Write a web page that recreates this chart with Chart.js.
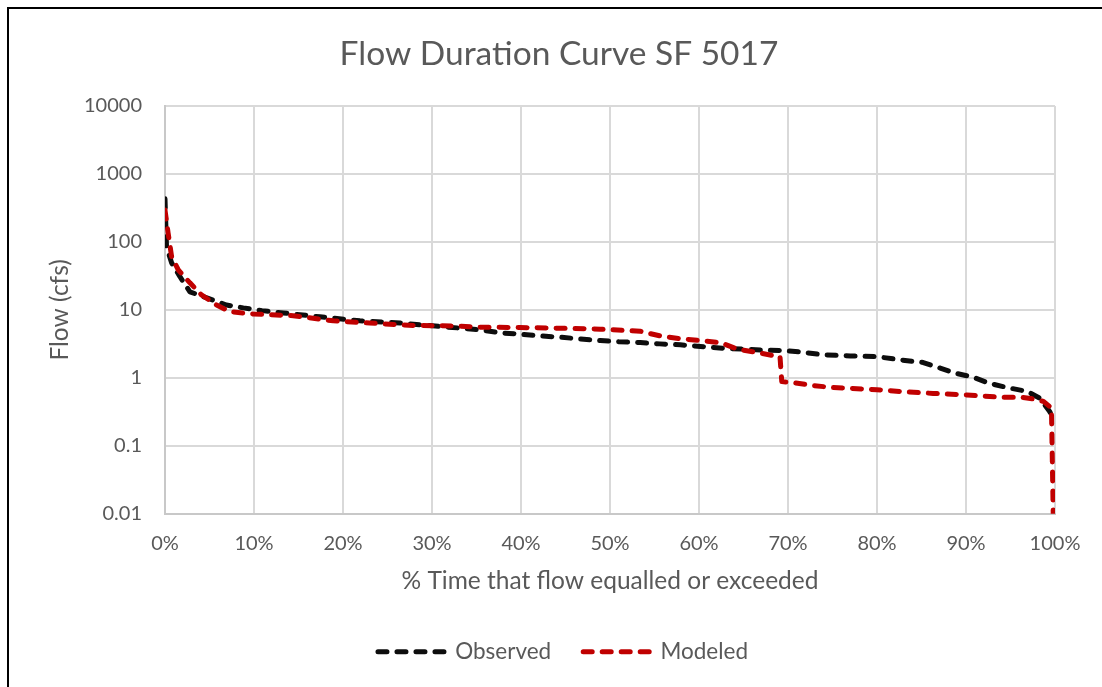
<!DOCTYPE html>
<html>
<head>
<meta charset="utf-8">
<script src="https://cdn.jsdelivr.net/npm/chart.js@4.4.1/dist/chart.umd.min.js"></script>
<style>
  html, body { margin: 0; padding: 0; background: #fff; }
  #wrap { width: 1102px; height: 687px; position: relative; }
</style>
</head>
<body>
<div id="wrap"><canvas id="fdc"></canvas></div>
<script>
// Flow duration curve, station SF 5017: % of time exceeded vs flow (cfs)
const chartTitle = 'Flow Duration Curve SF 5017';
const xAxisTitle = '% Time that flow equalled or exceeded';
const yAxisTitle = 'Flow (cfs)';
const seriesNames = ['Observed', 'Modeled'];

const xTickValues = [0, 10, 20, 30, 40, 50, 60, 70, 80, 90, 100];
const yTickValues = [0.01, 0.1, 1, 10, 100, 1000, 10000];
const yTickLabels = ['0.01', '0.1', '1', '10', '100', '1000', '10000'];

// Observed series
const obsPct = [0, 0.17, 0.75, 1.7, 2.8, 4.7, 6.9, 8.8, 10.9, 13.3,
  17.4, 21.9, 26.4, 30.9, 33.1, 35.4, 37.6, 39.9, 42, 44.4,
  46.6, 48.9, 51, 53.4, 55.6, 57.9, 62.7, 67.2, 69.4, 71.5,
  73.9, 77, 80, 82.6, 85.2, 87.1, 88.8, 90.8, 92.5, 94.6,
  96.9, 98.3, 99.4, 99.7];
const obsFlow = [430, 85, 49, 30.5, 18.4, 15, 11.8, 10.7, 9.75, 9.0,
  7.9, 6.9, 6.4, 5.7, 5.4, 5.1, 4.6, 4.4, 4.15, 3.96,
  3.74, 3.54, 3.4, 3.3, 3.16, 3.06, 2.73, 2.55, 2.52, 2.4,
  2.18, 2.1, 2.05, 1.84, 1.68, 1.39, 1.17, 1.02, 0.84, 0.72,
  0.63, 0.5, 0.32, 0.27];

// Modeled series
const modPct = [0, 0.35, 0.75, 1.5, 2.8, 4.1, 5.8, 7.3, 9.9, 14.4,
  18.9, 23, 27.9, 32.8, 35.4, 39.9, 44.4, 48.9, 53.4, 55.6,
  57.7, 62.4, 64.3, 66.5, 68.3, 69.1, 69.3, 70.6, 72.8, 75,
  80, 82.6, 86.3, 90.1, 93.8, 96.1, 97.5, 98.7, 99.6, 99.8];
const modFlow = [295, 135, 60, 38.6, 25, 16.6, 11.8, 9.4, 8.7, 8.2,
  6.9, 6.4, 5.9, 5.8, 5.56, 5.5, 5.37, 5.2, 4.85, 4.15,
  3.8, 3.3, 2.64, 2.36, 2.13, 2.06, 0.88, 0.85, 0.77, 0.72,
  0.67, 0.63, 0.59, 0.56, 0.52, 0.52, 0.49, 0.45, 0.36, 0.01];

const toPoints = (xs, ys) => xs.map((x, i) => ({ x: x, y: ys[i] }));

const textColor = '#595959';
const gridColor = '#d9d9d9';
const fontFamily = 'Lato, "Open Sans", sans-serif';

// White page with the black frame along the top and left edges
const framePlugin = {
  id: 'frame',
  beforeDraw(chart) {
    const ctx = chart.ctx;
    ctx.save();
    ctx.fillStyle = '#ffffff';
    ctx.fillRect(0, 0, chart.width, chart.height);
    ctx.fillStyle = '#000000';
    ctx.fillRect(7, 7, chart.width - 7, 2);
    ctx.fillRect(7, 7, 2, chart.height - 7);
    ctx.restore();
  }
};

// Title and legend are centred on the framed page, not on the padded box
const centreOnPagePlugin = {
  id: 'centreOnPage',
  afterLayout(chart) {
    if (chart.titleBlock) chart.titleBlock.left += 53;
    if (chart.legend) chart.legend.left += 61;
  }
};

const lineStyle = {
  borderWidth: 5,
  borderDash: [9, 10],
  borderCapStyle: 'round',
  borderJoinStyle: 'round',
  pointRadius: 0,
  pointHoverRadius: 0,
  tension: 0,
  fill: false
};

new Chart(document.getElementById('fdc'), {
  type: 'line',
  data: {
    datasets: [
      Object.assign({
        label: seriesNames[0],
        data: toPoints(obsPct, obsFlow),
        borderColor: '#0d0d0d',
        backgroundColor: '#0d0d0d',
        order: 1
      }, lineStyle),
      Object.assign({
        label: seriesNames[1],
        data: toPoints(modPct, modFlow),
        borderColor: '#c00000',
        backgroundColor: '#c00000',
        order: 0
      }, lineStyle)
    ]
  },
  options: {
    responsive: true,
    maintainAspectRatio: false,
    animation: false,
    devicePixelRatio: 1,
    layout: { padding: { left: 10, right: 47, top: 0, bottom: 14 } },
    plugins: {
      title: {
        display: true,
        text: chartTitle,
        color: textColor,
        font: { family: fontFamily, size: 33.5, weight: 'normal' },
        padding: { top: 34, bottom: 31.8 }
      },
      legend: {
        display: true,
        position: 'bottom',
        labels: {
          color: textColor,
          font: { family: fontFamily, size: 22.5 },
          usePointStyle: true,
          pointStyle: 'line',
          pointStyleWidth: 66,
          padding: 32,
          generateLabels(chart) {
            const items = Chart.defaults.plugins.legend.labels.generateLabels(chart);
            items.forEach(item => {
              const ds = chart.data.datasets[item.datasetIndex];
              item.lineDash = ds.borderDash;
              item.lineCap = ds.borderCapStyle;
              item.lineWidth = ds.borderWidth;
              item.strokeStyle = ds.borderColor;
            });
            return items.sort((a, b) => a.datasetIndex - b.datasetIndex);
          }
        }
      },
      tooltip: { enabled: false }
    },
    scales: {
      x: {
        type: 'linear',
        min: 0,
        max: 100,
        afterBuildTicks(scale) {
          scale.ticks = xTickValues.map(v => ({ value: v }));
        },
        afterFit(scale) { scale.height = 94.75; },
        ticks: {
          color: textColor,
          font: { family: fontFamily, size: 20 },
          padding: 18,
          maxRotation: 0,
          autoSkip: false,
          callback: v => v + '%'
        },
        grid: { color: gridColor, lineWidth: 2, drawTicks: false },
        border: { color: '#c8c8c8', width: 2 },
        title: {
          display: true,
          text: xAxisTitle,
          color: textColor,
          font: { family: fontFamily, size: 24.5 },
          padding: { top: 0, bottom: 13 }
        }
      },
      y: {
        type: 'logarithmic',
        min: 0.01,
        max: 10000,
        afterBuildTicks(scale) {
          scale.ticks = yTickValues.map(v => ({ value: v }));
        },
        afterFit(scale) { scale.width = 155; },
        ticks: {
          color: textColor,
          font: { family: fontFamily, size: 20 },
          padding: 23,
          autoSkip: false,
          callback: (v) => {
            const i = yTickValues.indexOf(v);
            return i >= 0 ? yTickLabels[i] : '';
          }
        },
        grid: { color: gridColor, lineWidth: 2, drawTicks: false },
        border: { color: '#c8c8c8', width: 2 },
        title: {
          display: true,
          text: yAxisTitle,
          color: textColor,
          font: { family: fontFamily, size: 24.5 },
          padding: { top: 35, bottom: 0 }
        }
      }
    }
  },
  plugins: [framePlugin, centreOnPagePlugin]
});
</script>
</body>
</html>
